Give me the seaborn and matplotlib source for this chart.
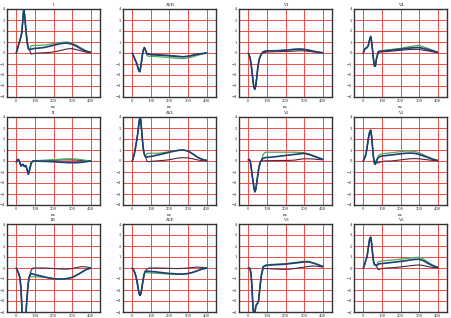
import numpy as np
import pandas as pd
import matplotlib
matplotlib.use("Agg")
import matplotlib.pyplot as plt
import seaborn as sns

sns.set_theme(style="white")
plt.rcParams['font.family'] = ['DejaVu Serif', 'DejaVu Sans']

# time axes (ms)
t_qrs = [0, 5, 10, 15, 20, 25, 30, 35, 40, 45, 50, 55, 60, 65, 70]
t_tail = [80, 90, 100, 125, 150, 175, 200, 225, 250, 275, 300, 325, 350, 375, 400]

leads = ["I", "II", "III", "AVR", "AVL", "AVF", "V1", "V2", "V3", "V4", "V5", "V6"]

qrs = {
    "I":   [0, 0.3, 0.6, 0.9, 1.2, 1.5, 1.9, 3.0, 4.0, 3.4, 2.4, 1.5, 0.8, 0.4, 0.3],
    "II":  [-0.1, 0.1, 0.15, 0.05, -0.2, -0.45, -0.35, -0.3, -0.45, -0.5, -0.4, -0.6, -0.9, -1.2, -0.9],
    "III": [0, -0.2, -0.4, -0.6, -1.0, -1.8, -3.6, -5.0, -5.5, -5.3, -4.5, -3.3, -2.2, -1.3, -0.8],
    "AVR": [0, -0.2, -0.4, -0.6, -0.8, -1.0, -1.3, -1.6, -1.7, -1.3, -0.7, -0.1, 0.3, 0.5, 0.3],
    "AVL": [0, 0.3, 0.6, 1.0, 1.5, 2.0, 2.6, 3.3, 3.9, 3.8, 2.8, 1.8, 1.0, 0.6, 0.4],
    "AVF": [0, -0.1, -0.3, -0.5, -0.8, -1.2, -1.7, -2.2, -2.5, -2.4, -2.0, -1.4, -0.9, -0.5, -0.3],
    "V1":  [0, -0.2, -0.5, -1.0, -1.7, -2.5, -3.1, -3.3, -3.0, -2.3, -1.5, -0.9, -0.5, -0.3, -0.1],
    "V2":  [0.1, 0.15, 0.0, -0.5, -1.2, -1.8, -2.4, -2.8, -2.6, -2.0, -1.4, -0.8, -0.4, -0.1, 0.05],
    "V3":  [0, 0, -0.1, -0.6, -1.8, -3.5, -4.5, -4.2, -3.5, -3.3, -3.2, -3.0, -2.2, -1.4, -0.7],
    "V4":  [0, 0.25, 0.4, 0.45, 0.5, 0.6, 0.9, 1.3, 1.5, 1.0, 0.2, -0.6, -1.2, -1.2, -0.6],
    "V5":  [0, 0.2, 0.4, 0.7, 1.2, 1.8, 2.3, 2.7, 2.8, 2.2, 1.2, 0.3, -0.2, -0.3, 0.0],
    "V6":  [0, 0.2, 0.5, 0.8, 1.0, 1.6, 2.2, 2.7, 2.8, 2.2, 1.3, 0.6, 0.3, 0.3, 0.2],
}

tail_navy = {
    "I":   [0.35, 0.4, 0.42, 0.45, 0.5, 0.6, 0.7, 0.8, 0.88, 0.9, 0.8, 0.6, 0.35, 0.15, 0.05],
    "II":  [-0.2, 0, 0, -0.02, -0.03, -0.05, -0.07, -0.1, -0.12, -0.15, -0.15, -0.15, -0.12, -0.06, 0],
    "III": [-0.5, -0.55, -0.6, -0.7, -0.8, -0.9, -0.97, -1.0, -1.0, -0.95, -0.85, -0.65, -0.4, -0.15, 0],
    "AVR": [-0.1, -0.1, -0.15, -0.18, -0.2, -0.22, -0.25, -0.3, -0.33, -0.35, -0.3, -0.2, -0.12, -0.05, 0],
    "AVL": [0.35, 0.4, 0.42, 0.5, 0.6, 0.7, 0.8, 0.9, 0.97, 1.0, 0.9, 0.65, 0.35, 0.15, 0.05],
    "AVF": [-0.3, -0.3, -0.32, -0.35, -0.4, -0.45, -0.5, -0.52, -0.55, -0.55, -0.5, -0.4, -0.25, -0.1, 0],
    "V1":  [0.1, 0.15, 0.2, 0.2, 0.2, 0.22, 0.25, 0.3, 0.33, 0.35, 0.32, 0.25, 0.15, 0.08, 0.02],
    "V2":  [0.25, 0.3, 0.32, 0.35, 0.4, 0.45, 0.5, 0.55, 0.6, 0.65, 0.7, 0.6, 0.45, 0.3, 0.15],
    "V3":  [0.1, 0.2, 0.25, 0.28, 0.3, 0.32, 0.35, 0.4, 0.45, 0.5, 0.55, 0.55, 0.45, 0.3, 0.15],
    "V4":  [0.1, 0.15, 0.15, 0.2, 0.25, 0.3, 0.35, 0.4, 0.45, 0.48, 0.5, 0.4, 0.3, 0.18, 0.05],
    "V5":  [0.3, 0.4, 0.45, 0.5, 0.55, 0.6, 0.65, 0.7, 0.72, 0.7, 0.6, 0.45, 0.3, 0.15, 0.05],
    "V6":  [0.35, 0.4, 0.4, 0.45, 0.5, 0.55, 0.6, 0.65, 0.72, 0.78, 0.8, 0.65, 0.4, 0.2, 0.05],
}

tail_green = {
    "I":   [0.65, 0.68, 0.7, 0.7, 0.72, 0.78, 0.85, 0.92, 0.97, 1.0, 0.9, 0.7, 0.45, 0.22, 0.08],
    "II":  [-0.1, 0.02, 0.03, 0.05, 0.07, 0.1, 0.12, 0.15, 0.18, 0.2, 0.2, 0.18, 0.12, 0.06, 0.0],
    "III": [-0.8, -0.8, -0.8, -0.82, -0.85, -0.9, -0.97, -1.0, -1.02, -0.98, -0.88, -0.65, -0.4, -0.15, 0.0],
    "AVR": [-0.25, -0.3, -0.3, -0.32, -0.35, -0.38, -0.42, -0.46, -0.5, -0.5, -0.45, -0.35, -0.22, -0.1, -0.02],
    "AVL": [0.7, 0.7, 0.7, 0.7, 0.72, 0.78, 0.85, 0.92, 0.97, 1.0, 0.9, 0.65, 0.35, 0.15, 0.05],
    "AVF": [-0.45, -0.45, -0.45, -0.47, -0.5, -0.52, -0.55, -0.57, -0.58, -0.57, -0.5, -0.4, -0.25, -0.1, 0],
    "V1":  [0.15, 0.18, 0.2, 0.2, 0.22, 0.25, 0.28, 0.3, 0.35, 0.38, 0.35, 0.28, 0.18, 0.1, 0.03],
    "V2":  [0.6, 0.78, 0.8, 0.8, 0.8, 0.8, 0.8, 0.8, 0.8, 0.78, 0.75, 0.65, 0.5, 0.33, 0.18],
    "V3":  [0.15, 0.25, 0.3, 0.33, 0.35, 0.38, 0.4, 0.45, 0.5, 0.55, 0.62, 0.6, 0.45, 0.3, 0.15],
    "V4":  [0.15, 0.2, 0.22, 0.28, 0.32, 0.38, 0.42, 0.5, 0.58, 0.65, 0.7, 0.55, 0.4, 0.25, 0.08],
    "V5":  [0.5, 0.6, 0.65, 0.7, 0.75, 0.8, 0.85, 0.9, 0.9, 0.88, 0.75, 0.55, 0.35, 0.18, 0.05],
    "V6":  [0.55, 0.6, 0.65, 0.68, 0.72, 0.76, 0.8, 0.85, 0.9, 0.95, 0.98, 0.8, 0.5, 0.25, 0.08],
}

tail_dark = {
    "I":   [-0.1, -0.05, -0.02, 0, 0.02, 0.05, 0.1, 0.18, 0.28, 0.38, 0.4, 0.3, 0.18, 0.08, 0.02],
    "II":  [-0.2, 0, 0, 0.02, 0.03, 0.05, 0.06, 0.08, 0.1, 0.1, 0.1, 0.08, 0.05, 0.02, 0],
    "III": [-0.2, 0, 0, 0, 0, -0.02, -0.05, -0.08, -0.1, -0.1, -0.05, 0.05, 0.12, 0.1, 0.02],
    "AVR": [-0.1, -0.1, -0.12, -0.15, -0.17, -0.2, -0.22, -0.25, -0.3, -0.32, -0.3, -0.22, -0.12, -0.05, 0],
    "AVL": [-0.05, -0.05, -0.03, 0, 0.03, 0.07, 0.12, 0.2, 0.28, 0.3, 0.28, 0.2, 0.1, 0.03, 0],
    "AVF": [-0.1, 0, 0, 0, 0, -0.02, -0.03, -0.05, -0.05, -0.03, 0, 0.05, 0.08, 0.05, 0.02],
    "V1":  [0.0, 0.05, 0.1, 0.1, 0.12, 0.12, 0.15, 0.15, 0.18, 0.2, 0.2, 0.15, 0.1, 0.05, 0.02],
    "V2":  [0.0, 0.02, 0.03, 0.03, 0.04, 0.05, 0.05, 0.06, 0.08, 0.15, 0.2, 0.2, 0.18, 0.14, 0.1],
    "V3":  [-0.05, -0.05, -0.05, -0.08, -0.1, -0.12, -0.12, -0.1, -0.05, 0.02, 0.08, 0.15, 0.18, 0.15, 0.08],
    "V4":  [0.05, 0.1, 0.1, 0.13, 0.17, 0.2, 0.25, 0.28, 0.32, 0.33, 0.33, 0.25, 0.18, 0.1, 0.03],
    "V5":  [-0.2, -0.1, -0.05, 0, 0, 0.05, 0.1, 0.15, 0.2, 0.22, 0.2, 0.15, 0.1, 0.05, 0.02],
    "V6":  [-0.15, -0.1, -0.05, 0, 0.02, 0.05, 0.1, 0.15, 0.2, 0.25, 0.28, 0.22, 0.12, 0.05, 0.0],
}

x_ticks = [0, 100, 200, 300, 400]
y_ticks = [-4, -3, -2, -1, 0, 1, 2, 3, 4]

COL_NAVY = "#1d3f73"
COL_GREEN = "#4aab5a"
COL_DARK = "#4a2844"
GRID_RED = "#f24a44"

fig = plt.figure(figsize=(4.51, 3.18), dpi=100)
W, H = 451.0, 318.0
col_left = [7, 123, 239, 354]
row_top = [9, 117, 224]
aw, ah = 93, 88

layout = [["I", "AVR", "V1", "V4"],
          ["II", "AVL", "V2", "V5"],
          ["III", "AVF", "V3", "V6"]]

t_full = t_qrs + t_tail
for r in range(3):
    for c in range(4):
        name = layout[r][c]
        ax = fig.add_axes([col_left[c] / W, 1 - (row_top[r] + ah) / H, aw / W, ah / H])
        ax.set_facecolor("white")
        for xv in x_ticks:
            ax.axvline(xv, color=GRID_RED, lw=0.7, zorder=0)
        for yv in y_ticks:
            ax.axhline(yv, color=GRID_RED, lw=0.7, zorder=0)
        series = [
            (qrs[name] + tail_dark[name], COL_DARK, 0.8, 2),
            (qrs[name] + tail_green[name], COL_GREEN, 0.9, 3),
            (qrs[name] + tail_navy[name], COL_NAVY, 1.2, 4),
        ]
        for vals, col, lw, z in series:
            df = pd.DataFrame({"t": t_full, "v": vals})
            sns.lineplot(data=df, x="t", y="v", ax=ax, color=col, lw=lw, zorder=z, sort=False)
        ax.set_xlim(-50, 450)
        ax.set_ylim(-4, 4)
        ax.set_xticks(x_ticks)
        ax.set_yticks(y_ticks)
        ax.tick_params(axis="both", labelsize=2.6, length=1.5, width=0.4, pad=1.2,
                       direction="in", colors="#222222")
        if r < 2:
            ax.set_xlabel("ms", fontsize=2.3, labelpad=1.5)
        else:
            ax.set_xlabel("")
        ax.set_ylabel("")
        ax.set_title(name, fontsize=3, pad=2.5)
        for sp in ax.spines.values():
            sp.set_color("#333333")
            sp.set_linewidth(1.0)
        ax.grid(False)

fig.savefig("out.png", dpi=100)
